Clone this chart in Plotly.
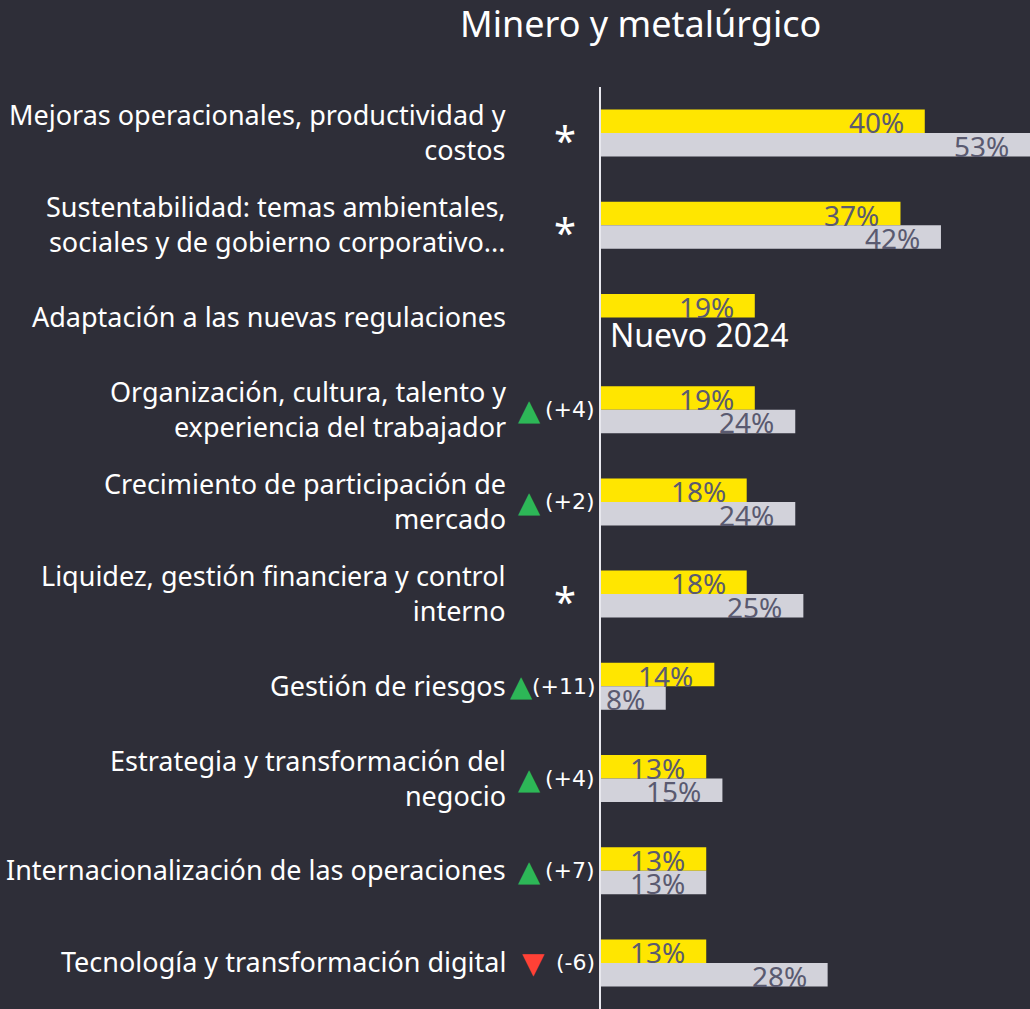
import plotly.graph_objects as go

categories = [
    "Mejoras operacionales, productividad y<br>costos",
    "Sustentabilidad: temas ambientales,<br>sociales y de gobierno corporativo...",
    "Adaptación a las nuevas regulaciones",
    "Organización, cultura, talento y<br>experiencia del trabajador",
    "Crecimiento de participación de<br>mercado",
    "Liquidez, gestión financiera y control<br>interno",
    "Gestión de riesgos",
    "Estrategia y transformación del<br>negocio",
    "Internacionalización de las operaciones",
    "Tecnología y transformación digital",
]
values_2024 = [40, 37, 19, 19, 18, 18, 14, 13, 13, 13]
values_2023 = [53, 42, None, 24, 24, 25, 8, 15, 13, 28]
change_marker = ["*", "*", "", "up", "up", "*", "up", "up", "up", "down"]
change_text = ["", "", "", "(+4)", "(+2)", "", "(+11)", "(+4)", "(+7)", "(-6)"]
new_note = ["", "", "Nuevo 2024", "", "", "", "", "", "", ""]

BG = "#2e2e38"
YELLOW = "#ffe600"
GRAY = "#d2d2da"
VALTXT = "#5a5a70"
FONT = "Noto Sans"
BW = 0.255

ypos = list(range(len(categories)))

fig = go.Figure()
fig.add_trace(go.Bar(
    y=ypos, x=values_2024, orientation="h", width=BW, offset=-BW,
    marker=dict(color=YELLOW, line=dict(width=0)), name="2024", hoverinfo="x",
))
fig.add_trace(go.Bar(
    y=ypos, x=values_2023, orientation="h", width=BW, offset=0,
    marker=dict(color=GRAY, line=dict(width=0)), name="2023", hoverinfo="x",
))

ann = []
for i, cat in enumerate(categories):
    ann.append(dict(x=0, y=i, xref="x", yref="y", text=cat, showarrow=False,
                    xanchor="right", yanchor="middle", align="right", xshift=-93,
                    yshift=1, font=dict(family=FONT, size=27, color="#ffffff")))
    ann.append(dict(x=values_2024[i], y=i - BW / 2, xref="x", yref="y",
                    text=f"{values_2024[i]}%", showarrow=False, xanchor="right",
                    yanchor="middle", xshift=-19, yshift=-1,
                    font=dict(family=FONT, size=28, color=VALTXT)))
    if values_2023[i] is not None:
        ann.append(dict(x=values_2023[i], y=i + BW / 2, xref="x", yref="y",
                        text=f"{values_2023[i]}%", showarrow=False, xanchor="right",
                        yanchor="middle", xshift=-19, yshift=-1,
                        font=dict(family=FONT, size=28, color=VALTXT)))
    if new_note[i]:
        ann.append(dict(x=0, y=i + BW / 2, xref="x", yref="y", text=new_note[i],
                        showarrow=False, xanchor="left", yanchor="middle", xshift=7,
                        yshift=-5, font=dict(family=FONT, size=32, color="#ffffff")))
    m = change_marker[i]
    if m == "*":
        ann.append(dict(x=0, y=i, xref="x", yref="y", text="*", showarrow=False,
                        xanchor="center", yanchor="middle", xshift=-36, yshift=-6,
                        font=dict(family=FONT, size=40, color="#ffffff")))
    elif m in ("up", "down"):
        sym = "▲" if m == "up" else "▼"
        col = "#2db757" if m == "up" else "#ff4136"
        shift = -72
        if change_text[i] == "(+11)":
            shift = -80
        if m == "down":
            shift = -68
        ann.append(dict(x=0, y=i, xref="x", yref="y", text=sym, showarrow=False,
                        xanchor="center", yanchor="middle", xshift=shift, yshift=0,
                        font=dict(family="DejaVu Sans", size=29, color=col)))
    if change_text[i]:
        ann.append(dict(x=0, y=i, xref="x", yref="y", text=change_text[i],
                        showarrow=False, xanchor="right", yanchor="middle",
                        xshift=-3 if change_text[i] == "(+11)" else -4,
                        font=dict(family="DejaVu Sans", size=22, color="#ffffff")))

fig.update_layout(
    width=1030, height=1009,
    paper_bgcolor=BG, plot_bgcolor=BG,
    margin=dict(l=601, r=0, t=87, b=0),
    showlegend=False,
    bargap=0.49,
    title=dict(text="Minero y metalúrgico", x=0.622, xanchor="center",
               y=1 - 24 / 1009, yanchor="middle", yref="container",
               font=dict(family=FONT, size=36, color="#ffffff")),
    xaxis=dict(range=[0, 53], visible=False, fixedrange=True),
    yaxis=dict(range=[len(categories) - 0.5, -0.5], showticklabels=False,
               showgrid=False, zeroline=False, showline=True, linecolor="#e8e8ee",
               linewidth=2, ticks="", fixedrange=True),
    annotations=ann,
)

fig.write_html("out.html", config={"displayModeBar": False},
               post_script="document.body.style.margin='0';document.body.style.overflow='hidden';")
